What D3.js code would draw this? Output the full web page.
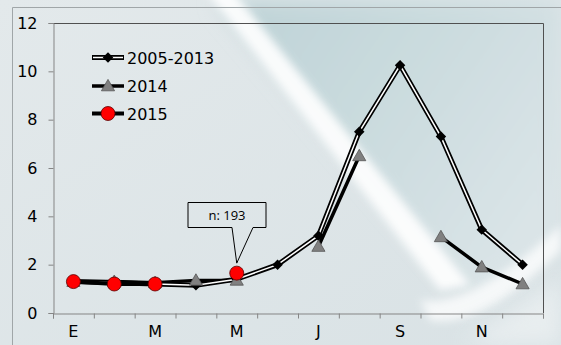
<!DOCTYPE html>
<html>
<head>
<meta charset="utf-8">
<script src="https://cdn.jsdelivr.net/npm/d3@7"></script>
<style>
  html, body { margin: 0; padding: 0; background: #dfe6e9; }
  svg { display: block; }
</style>
</head>
<body>
<div id="chart"></div>
<script>
// Monthly labels (Spanish initials); only every other one is printed
const months = ["E", "F", "M", "A", "M", "J", "J", "A", "S", "O", "N", "D"];
const shownLabels = [true, false, true, false, true, false, true, false, true, false, true, false];

const yTicks = [0, 2, 4, 6, 8, 10, 12];

const series2005_2013 = [1.3, 1.25, 1.2, 1.15, 1.4, 2.0, 3.2, 7.5, 10.25, 7.3, 3.45, 2.0];
const series2014 = [1.3, 1.3, 1.25, 1.35, 1.35, null, 2.75, 6.5, null, 3.15, 1.9, 1.2];
const series2015 = [1.3, 1.2, 1.2, null, 1.65, null, null, null, null, null, null, null];

const legendNames = ["2005-2013", "2014", "2015"];
const calloutText = "n: 193";
const calloutIndex = 4;

const W = 561, H = 345;
const margin = { left: 53, right: 18, top: 23, bottom: 32 };
const FONT = "DejaVu Sans, Verdana, sans-serif";

const svg = d3.select("#chart").append("svg")
  .attr("width", W).attr("height", H);

// ---- background: soft blue-grey with diagonal light streaks ----
const defs = svg.append("defs");
const bgGrad = defs.append("linearGradient").attr("id", "bg")
  .attr("x1", "0").attr("y1", "0").attr("x2", "1").attr("y2", "1");
bgGrad.append("stop").attr("offset", "0").attr("stop-color", "#e3e9eb");
bgGrad.append("stop").attr("offset", "1").attr("stop-color", "#d9e2e5");

const tealGrad = defs.append("linearGradient").attr("id", "teal")
  .attr("x1", "0").attr("y1", "0").attr("x2", "1").attr("y2", "0.6");
tealGrad.append("stop").attr("offset", "0").attr("stop-color", "#bdd2d6");
tealGrad.append("stop").attr("offset", "0.5").attr("stop-color", "#cadbde");
tealGrad.append("stop").attr("offset", "1").attr("stop-color", "#dae4e7");

const blur = defs.append("filter").attr("id", "soft")
  .attr("x", "-20%").attr("y", "-20%").attr("width", "140%").attr("height", "140%");
blur.append("feGaussianBlur").attr("stdDeviation", 4);
const blur2 = defs.append("filter").attr("id", "soft2")
  .attr("x", "-20%").attr("y", "-20%").attr("width", "140%").attr("height", "140%");
blur2.append("feGaussianBlur").attr("stdDeviation", 10);

const bg = svg.append("g");
bg.append("rect").attr("width", W).attr("height", H).attr("fill", "url(#bg)");
// teal panel to the right of the main streak
bg.append("path")
  .attr("d", "M215,0 L561,0 L561,240 L470,300 Z")
  .attr("fill", "url(#teal)").attr("filter", "url(#soft2)");
// bright diagonal streak
bg.append("path")
  .attr("d", "M205,-10 L232,-10 L470,285 L440,290 Z")
  .attr("fill", "#ffffff").attr("opacity", 0.9).attr("filter", "url(#soft)");
// lower right sweep
bg.append("path")
  .attr("d", "M420,300 Q470,310 561,225 L561,250 Q480,330 430,320 Z")
  .attr("fill", "#ffffff").attr("opacity", 0.75).attr("filter", "url(#soft)");
bg.append("path")
  .attr("d", "M460,345 L561,280 L561,345 Z")
  .attr("fill", "#f2f5f6").attr("opacity", 0.6).attr("filter", "url(#soft2)");

// outer chart frame
svg.append("path")
  .attr("d", "M12.5,345 L12.5,7.5 L561,7.5")
  .attr("fill", "none").attr("stroke", "#a0a6a8").attr("stroke-width", 1);

// ---- scales ----
const x = d3.scaleBand().domain(d3.range(months.length))
  .range([margin.left, W - margin.right]).padding(0);
const xEdge = d3.scaleLinear().domain([0, months.length])
  .range([margin.left, W - margin.right]);
const y = d3.scaleLinear().domain([0, 12]).range([H - margin.bottom, margin.top]);
const cx = i => x(i) + x.bandwidth() / 2;

// plot frame (top and right)
svg.append("path")
  .attr("d", `M${margin.left},${margin.top + 0.5} L${W - margin.right + 0.5},${margin.top + 0.5} L${W - margin.right + 0.5},${y(0)}`)
  .attr("fill", "none").attr("stroke", "#505050").attr("stroke-width", 1);

// ---- axes ----
const yAxis = svg.append("g")
  .attr("transform", `translate(${margin.left + 0.5},0)`)
  .call(d3.axisLeft(y).tickValues(yTicks).tickSize(5).tickPadding(11));
yAxis.select(".domain").attr("stroke", "#858585");
yAxis.selectAll(".tick line").attr("stroke", "#858585");
yAxis.selectAll("text")
  .attr("font-family", FONT)
  .attr("font-size", 16).attr("fill", "#000");

const xTicksAxis = svg.append("g")
  .attr("transform", `translate(0,${y(0) + 0.5})`)
  .call(d3.axisBottom(xEdge).tickValues(d3.range(months.length + 1)).tickSize(5).tickFormat(""));
xTicksAxis.select(".domain").attr("stroke", "#858585");
xTicksAxis.selectAll(".tick line").attr("stroke", "#858585");

const xLabelAxis = svg.append("g")
  .attr("transform", `translate(0,${y(0) + 0.5})`)
  .call(d3.axisBottom(x).tickSize(0).tickPadding(12)
    .tickFormat(i => shownLabels[i] ? months[i] : ""));
xLabelAxis.select(".domain").remove();
xLabelAxis.selectAll("text")
  .attr("font-family", FONT)
  .attr("font-size", 16).attr("fill", "#000");

// ---- series ----
const line = d3.line()
  .defined(d => d != null)
  .x((d, i) => cx(i))
  .y(d => y(d));

const plot = svg.append("g");

// 2014: thick black line with grey triangles
plot.append("path").datum(series2014)
  .attr("d", line).attr("fill", "none")
  .attr("stroke", "#000").attr("stroke-width", 3.5).attr("stroke-linejoin", "round");

// 2005-2013: double line (black outline, white core) with black diamonds
plot.append("path").datum(series2005_2013)
  .attr("d", line).attr("fill", "none")
  .attr("stroke", "#000").attr("stroke-width", 5).attr("stroke-linejoin", "miter");
plot.append("path").datum(series2005_2013)
  .attr("d", line).attr("fill", "none")
  .attr("stroke", "#fff").attr("stroke-width", 1.5).attr("stroke-linejoin", "miter");

const diamond = d3.symbol().type(d3.symbolSquare).size(55);
const triangle = d3.symbol().type(d3.symbolTriangle).size(75);
const circleR = 7;

plot.selectAll(".dia").data(series2005_2013.map((v, i) => ({ v, i })).filter(d => d.v != null))
  .enter().append("path")
  .attr("transform", d => `translate(${cx(d.i)},${y(d.v)}) rotate(45)`)
  .attr("d", diamond)
  .attr("fill", "#000");

plot.selectAll(".tri").data(series2014.map((v, i) => ({ v, i })).filter(d => d.v != null))
  .enter().append("path")
  .attr("transform", d => `translate(${cx(d.i)},${y(d.v) + 1})`)
  .attr("d", triangle)
  .attr("fill", "#808080").attr("stroke", "#555").attr("stroke-width", 0.8);

// 2015: black line with red circles
plot.append("path").datum(series2015)
  .attr("d", line).attr("fill", "none")
  .attr("stroke", "#000").attr("stroke-width", 4).attr("stroke-linejoin", "round");
plot.selectAll(".dot").data(series2015.map((v, i) => ({ v, i })).filter(d => d.v != null))
  .enter().append("circle")
  .attr("cx", d => cx(d.i)).attr("cy", d => y(d.v)).attr("r", circleR)
  .attr("fill", "#ff0000").attr("stroke", "#5a0000").attr("stroke-width", 0.8);

// ---- callout ----
const tipX = cx(calloutIndex), tipY = y(series2015[calloutIndex]) - 10;
const boxL = 188, boxR = 266, boxT = 202.5, boxB = 227.5;
const callout = svg.append("g");
callout.append("path")
  .attr("d", `M${boxL},${boxT} L${boxR},${boxT} L${boxR},${boxB} L${boxL + 65},${boxB} L${tipX},${tipY} L${boxL + 44},${boxB} L${boxL},${boxB} Z`)
  .attr("fill", "none").attr("stroke", "#000").attr("stroke-width", 1);
callout.append("text")
  .attr("x", (boxL + boxR) / 2).attr("y", boxT + 17.5)
  .attr("text-anchor", "middle")
  .attr("font-family", "Open Sans, Liberation Sans, sans-serif")
  .attr("font-size", 13).attr("fill", "#000")
  .text(calloutText);

// ---- legend ----
const legend = svg.append("g");
const rowsY = [57.5, 86, 113.5];
const lx0 = 92, lx1 = 124, mx = 108;
legendNames.forEach((name, k) => {
  const g = legend.append("g").attr("transform", `translate(0,${rowsY[k]})`);
  if (k === 0) {
    g.append("line").attr("x1", lx0).attr("x2", lx1).attr("stroke", "#000").attr("stroke-width", 5);
    g.append("line").attr("x1", lx0 + 1).attr("x2", lx1 - 1).attr("stroke", "#fff").attr("stroke-width", 1.5);
    g.append("path").attr("transform", `translate(${mx},0) rotate(45)`)
      .attr("d", diamond).attr("fill", "#000");
  } else if (k === 1) {
    g.append("line").attr("x1", lx0).attr("x2", lx1).attr("stroke", "#000").attr("stroke-width", 3.5);
    g.append("path").attr("transform", `translate(${mx},1)`).attr("d", triangle)
      .attr("fill", "#808080").attr("stroke", "#555").attr("stroke-width", 0.8);
  } else {
    g.append("line").attr("x1", lx0).attr("x2", lx1).attr("stroke", "#000").attr("stroke-width", 4);
    g.append("circle").attr("cx", mx).attr("r", circleR)
      .attr("fill", "#ff0000").attr("stroke", "#5a0000").attr("stroke-width", 0.8);
  }
  g.append("text").attr("x", 127).attr("y", 6)
    .attr("font-family", FONT)
    .attr("font-size", 16).attr("fill", "#000")
    .text(name);
});
</script>
</body>
</html>
